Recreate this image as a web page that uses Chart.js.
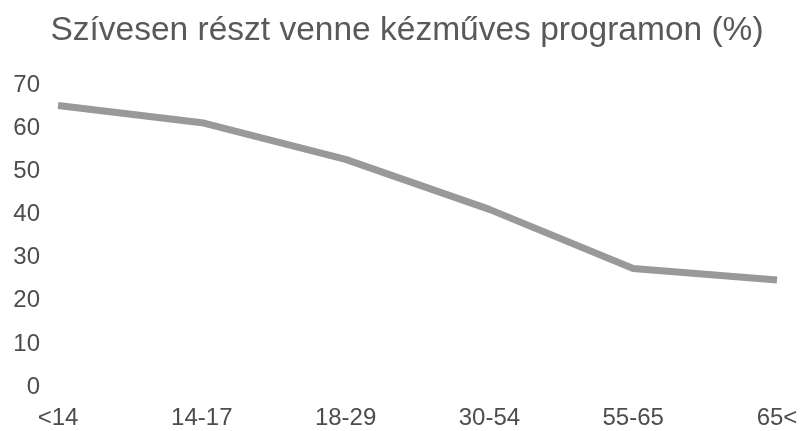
<!DOCTYPE html>
<html lang="hu">
<head>
  <meta charset="UTF-8" />
  <title>Szívesen részt venne kézműves programon (%)</title>
  <script src="https://cdn.jsdelivr.net/npm/chart.js"></script>
  <style>
    html, body { margin: 0; padding: 0; background: #fff; }
    .chart-wrapper { width: 804px; height: 431px; position: relative; }
  </style>
</head>
<body>
  <div class="chart-wrapper">
    <canvas id="chart"></canvas>
  </div>

  <script>
    const title = 'Szívesen részt venne kézműves programon (%)';
    const ageGroups = ['<14', '14-17', '18-29', '30-54', '55-65', '65<'];
    const percentages = [65.3, 61.3, 52.8, 41.2, 27.5, 24.8];
    const yMin = 0, yMax = 70, yStep = 10;

    const fontFamily = '"Liberation Sans", Arial, sans-serif';

    const ctx = document.getElementById('chart').getContext('2d');
    new Chart(ctx, {
      type: 'line',
      data: {
        labels: ageGroups,
        datasets: [{
          data: percentages,
          borderColor: '#999999',
          borderWidth: 7,
          pointRadius: 0,
          tension: 0,
          borderJoinStyle: 'round',
          fill: false
        }]
      },
      options: {
        responsive: true,
        maintainAspectRatio: false,
        animation: false,
        layout: { padding: { left: 10, right: 0, top: 11, bottom: 0 } },
        plugins: {
          legend: { display: false },
          tooltip: { enabled: false },
          title: {
            display: true,
            text: title,
            color: '#595959',
            font: { family: fontFamily, size: 33.5, weight: 'normal' },
            padding: { top: 0, bottom: 34 }
          }
        },
        scales: {
          x: {
            offset: false,
            grid: { display: false },
            border: { display: false },
            // room on the right for the last label, without moving the title
            afterFit: (scale) => { scale.height = 44; scale.paddingRight = 27; },
            ticks: {
              color: '#4d4d4d',
              font: { family: fontFamily, size: 24 },
              padding: 9,
              maxRotation: 0
            }
          },
          y: {
            min: yMin,
            max: yMax,
            grid: { display: false },
            border: { display: false },
            afterFit: (scale) => { scale.width = 48; },
            ticks: {
              stepSize: yStep,
              color: '#4d4d4d',
              font: { family: fontFamily, size: 24 },
              padding: 10
            }
          }
        }
      }
    });
  </script>
</body>
</html>
